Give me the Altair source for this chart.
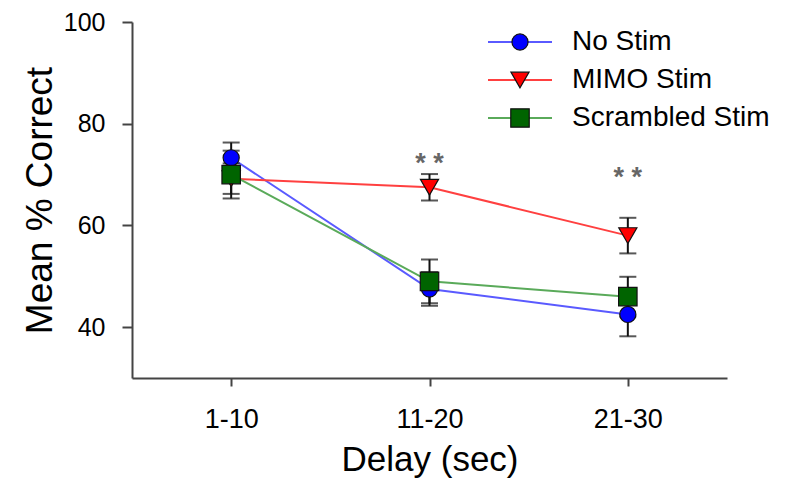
import altair as alt
import pandas as pd

# ---- data ----
delays = ["1-10", "11-20", "21-30"]
series = ["No Stim", "MIMO Stim", "Scrambled Stim"]
no_stim = [73.3, 47.5, 42.5]
no_stim_err = [3.0, 3.3, 4.3]
mimo = [69.2, 67.5, 58.0]
mimo_err = [3.0, 2.6, 3.5]
scrambled = [70.0, 49.0, 46.0]
scrambled_err = [4.7, 4.3, 3.9]
sig_delays = ["11-20", "21-30"]
sig_y = [70.5, 67.8]
sig_text = ["* *", "* *"]

line_colors = ["#5a5aff", "#ff4040", "#5aaa5a"]
fill_colors = ["#0000ff", "#ff0000", "#006400"]
shapes = ["circle", "triangle-down", "square"]
FONT = "Liberation Sans"

rows = []
for name, means, errs in [(series[0], no_stim, no_stim_err),
                          (series[1], mimo, mimo_err),
                          (series[2], scrambled, scrambled_err)]:
    for d, m, e in zip(delays, means, errs):
        rows.append({"delay": d, "series": name, "mean": m, "lo": m - e, "hi": m + e})
df = pd.DataFrame(rows)
sig_df = pd.DataFrame({"delay": sig_delays, "y": sig_y, "text": sig_text})

x_enc = alt.X("delay:N", scale=alt.Scale(type="point", domain=delays, padding=0.5),
              axis=alt.Axis(title="Delay (sec)", labelAngle=0))
y_scale = alt.Scale(domain=[30, 100], nice=False, zero=False)
y_enc = alt.Y("mean:Q", scale=y_scale,
              axis=alt.Axis(title="Mean % Correct", values=[40, 60, 80, 100]))

base = alt.Chart(df)

lines = base.mark_line(strokeWidth=2).encode(
    x=x_enc, y=y_enc,
    color=alt.Color("series:N", scale=alt.Scale(domain=series, range=line_colors), legend=None),
    detail="series:N",
)
err = base.mark_rule(color="#111", strokeWidth=2).encode(
    x=x_enc, y=alt.Y("lo:Q", scale=y_scale), y2="hi:Q")
cap_hi = base.mark_tick(color="#111", size=17, thickness=2, orient="horizontal").encode(
    x=x_enc, y=alt.Y("hi:Q", scale=y_scale))
cap_lo = base.mark_tick(color="#111", size=17, thickness=2, orient="horizontal").encode(
    x=x_enc, y=alt.Y("lo:Q", scale=y_scale))

sizes = [260, 330, 340]

def pts(i):
    name = series[i]
    return alt.Chart(df[df["series"] == name]).mark_point(
        filled=True, stroke="#111", strokeWidth=1.2, opacity=1, size=sizes[i],
        shape=shapes[i], fill=fill_colors[i]
    ).encode(x=x_enc, y=alt.Y("mean:Q", scale=y_scale))

points = [pts(0), pts(1), pts(2)]

sig = alt.Chart(sig_df).mark_text(fontSize=27, color="#666", font=FONT, fontWeight="bold",
                                  baseline="alphabetic").encode(
    x=x_enc, y=alt.Y("y:Q", scale=y_scale), text="text:N")

# manual legend (line + marker + label)
legend_layers = []
row_y = [20, 58, 96]
for i, name in enumerate(series):
    one = alt.Chart(alt.Data(values=[{}]))
    legend_layers.append(one.mark_rule(color=line_colors[i], strokeWidth=2).encode(
        x=alt.value(356), x2=alt.value(420), y=alt.value(row_y[i])))
    legend_layers.append(one.mark_point(filled=True, stroke="#111", strokeWidth=1.2, opacity=1,
                                        size=sizes[i], shape=shapes[i], fill=fill_colors[i]).encode(
        x=alt.value(388), y=alt.value(row_y[i])))
    legend_layers.append(one.mark_text(align="left", baseline="middle", fontSize=28, font=FONT,
                                       color="#000").encode(
        x=alt.value(440), y=alt.value(row_y[i]), text=alt.value(name)))

chart = alt.layer(lines, err, cap_hi, cap_lo, *points, sig, *legend_layers).properties(
    width=595, height=356,
    autosize=alt.AutoSizeParams(type="none"),
    padding={"left": 124, "top": 14, "right": 53, "bottom": 101},
).configure_view(stroke=None).configure_axis(
    grid=False, domainColor="#444", domainWidth=2, tickColor="#444", tickWidth=2,
    labelFont=FONT, titleFont=FONT, labelColor="#000", titleColor="#000",
    titleFontWeight="normal",
).configure_axisY(
    tickSize=10, labelFontSize=25, labelPadding=17, titleFontSize=37, titlePadding=4,
).configure_axisX(
    tickSize=8, labelFontSize=27, labelPadding=20, titleFontSize=35, titlePadding=10,
)

chart.save("out.html", embed_options={"renderer": "svg", "actions": False})
